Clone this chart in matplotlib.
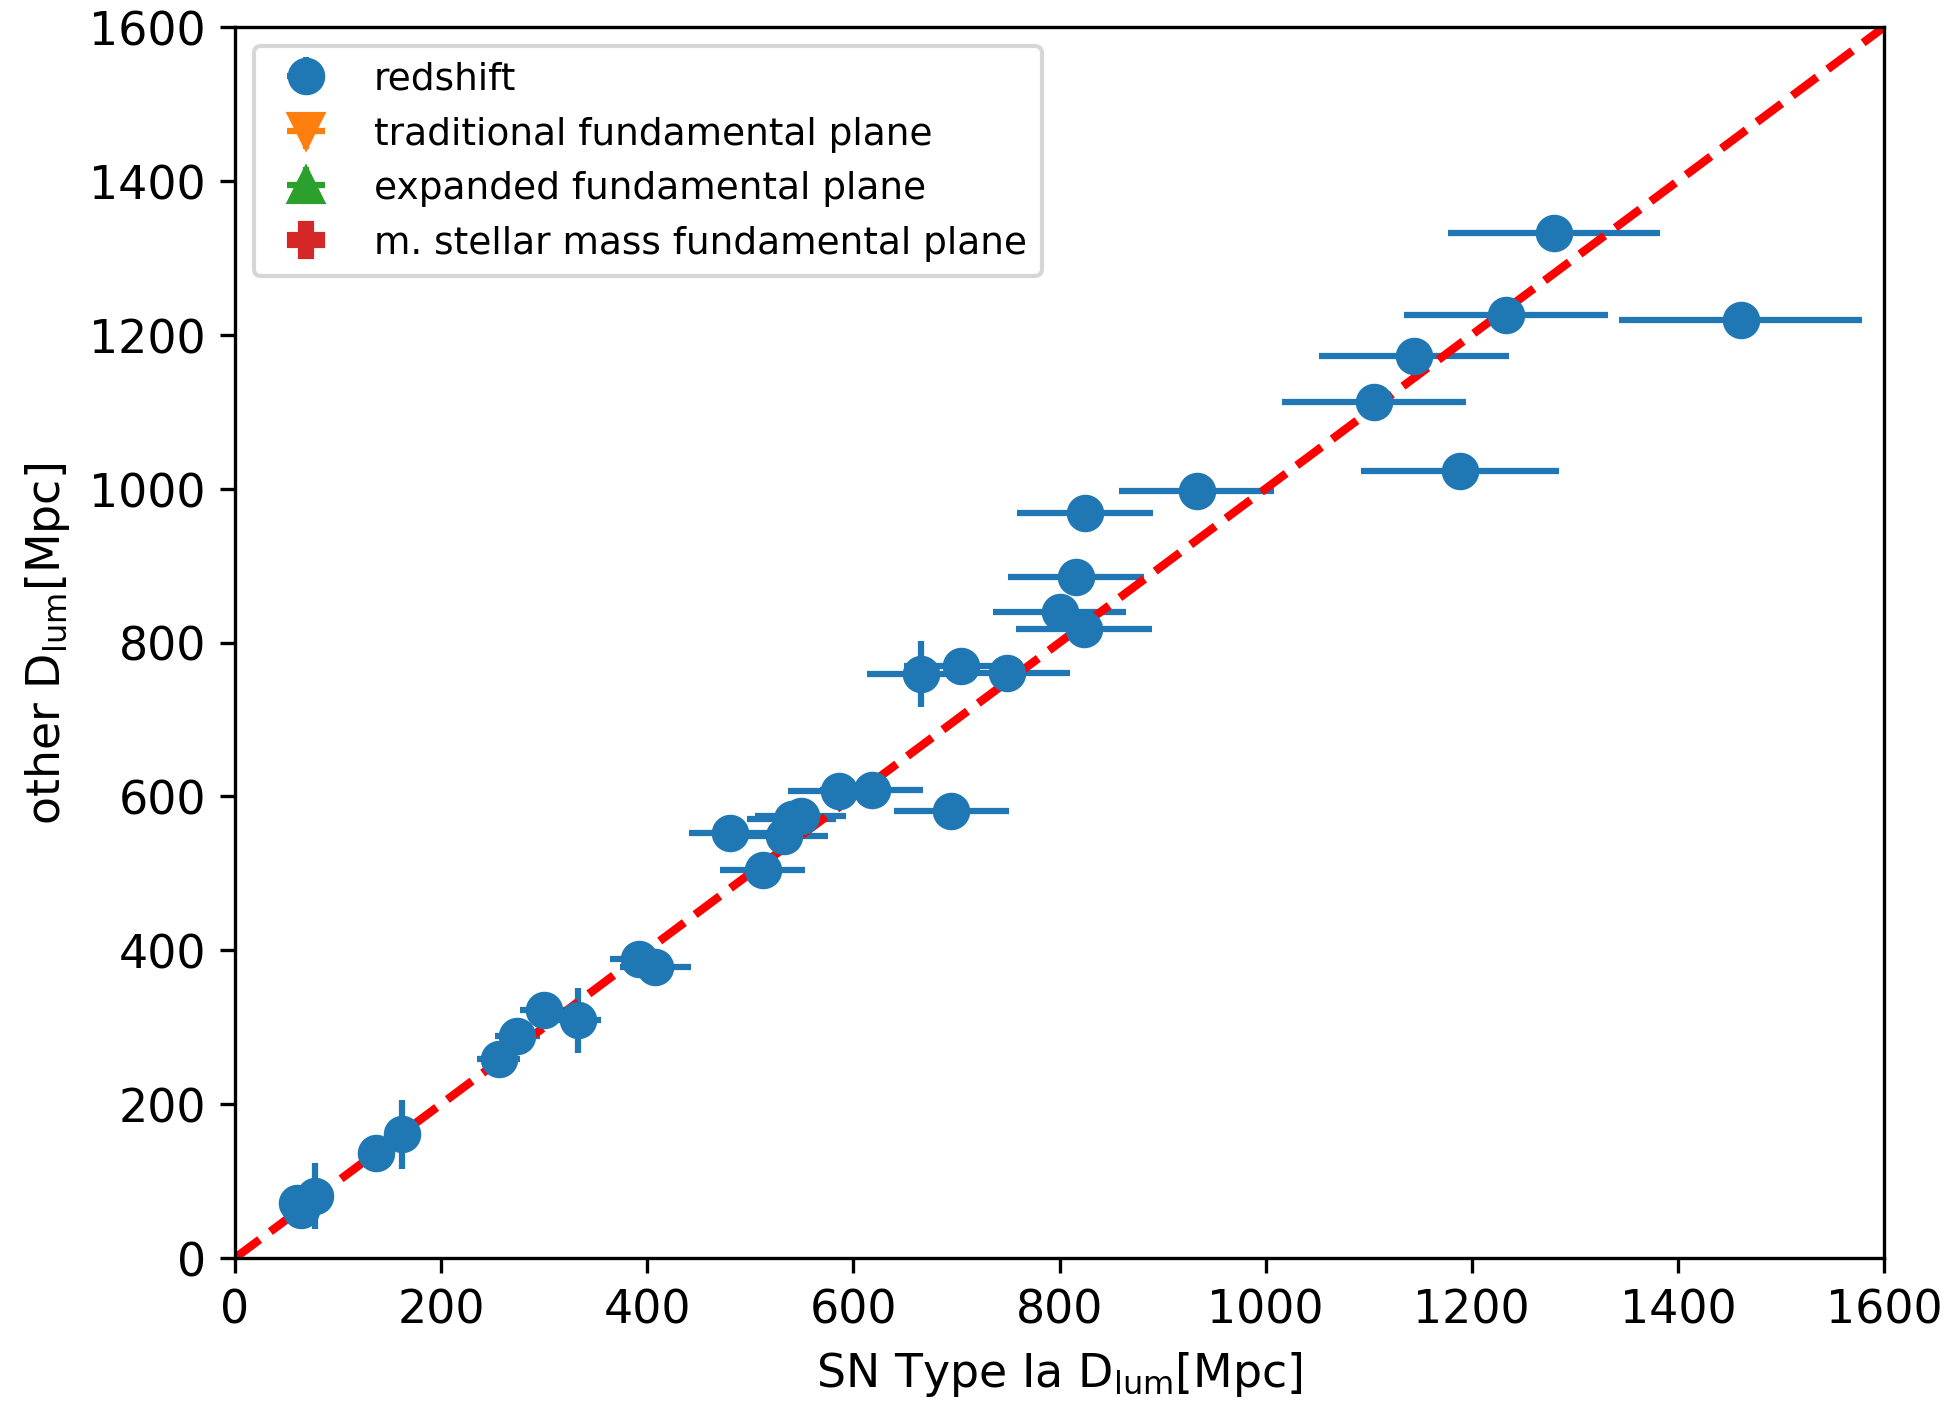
import matplotlib
matplotlib.use("Agg")
import matplotlib.pyplot as plt

# luminosity distances (Mpc)
sn_dlum = [60, 64, 78, 137, 162, 256, 274, 300, 333, 392, 408, 480, 512, 533,
           540, 549, 586, 618, 666, 695, 704, 749, 800, 816, 824, 825, 933,
           1105, 1144, 1189, 1233, 1280, 1461]
z_dlum = [72, 63, 81, 137, 161, 259, 288, 322, 309, 389, 378, 553, 505, 548,
          571, 574, 607, 608, 759, 581, 769, 761, 840, 885, 817, 968, 997,
          1113, 1172, 1023, 1226, 1332, 1219]
sn_err = [3, 3, 4, 5, 5, 21, 22, 23, 22, 28, 34, 39, 41, 42,
          43, 44, 49, 50, 53, 56, 55, 61, 65, 66, 66, 66, 75,
          89, 92, 96, 99, 103, 118]
z_err = [5, 5, 43, 8, 45, 8, 8, 8, 42, 10, 10, 10, 10, 10,
         10, 10, 10, 10, 43, 10, 10, 10, 10, 10, 10, 10, 10,
         10, 10, 10, 10, 10, 10]

plt.rcParams['font.size'] = 11

fig = plt.figure(figsize=(6.51, 4.673), dpi=300)
ax = fig.add_axes([0.1203, 0.102, 0.8444, 0.878])

ax.errorbar(sn_dlum, z_dlum, xerr=sn_err, yerr=z_err, fmt='o', color='C0',
            markersize=8, label='redshift')
ax.errorbar([], [], xerr=[], yerr=[], fmt='v', color='C1', markersize=8,
            label='traditional fundamental plane')
ax.errorbar([], [], xerr=[], yerr=[], fmt='^', color='C2', markersize=8,
            label='expanded fundamental plane')
ax.errorbar([], [], xerr=[], yerr=[], fmt='P', color='C3', markersize=8,
            label='m. stellar mass fundamental plane')

ax.plot([0, 1600], [0, 1600], 'r--', lw=2)

ax.set_xlim(0, 1600)
ax.set_ylim(0, 1600)
ax.set_xlabel(r'SN Type Ia D$_{\mathrm{lum}}$[Mpc]')
ax.set_ylabel(r'other D$_{\mathrm{lum}}$[Mpc]')
ax.legend(loc='upper left', fontsize=9)

fig.savefig('out.png', dpi=300)
